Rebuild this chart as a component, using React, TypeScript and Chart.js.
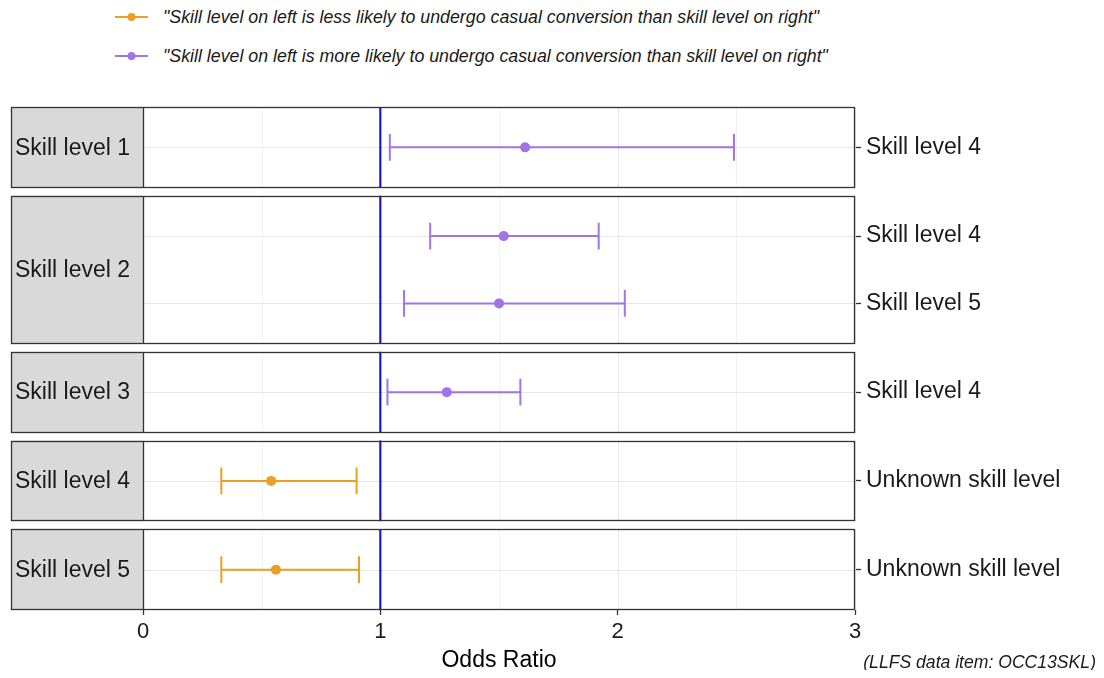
import React, { useEffect, useRef } from "react";
import { Chart, registerables } from "chart.js";

Chart.register(...registerables);

// ---------------- data ----------------
const groups = ["Skill level 1", "Skill level 2", "Skill level 3", "Skill level 4", "Skill level 5"];
const rowGroup = [0, 1, 1, 2, 3, 4];
const rowLabels = ["Skill level 4", "Skill level 4", "Skill level 5", "Skill level 4", "Unknown skill level", "Unknown skill level"];
const oddsRatio = [1.61, 1.52, 1.5, 1.28, 0.54, 0.56];
const ciLower = [1.04, 1.21, 1.1, 1.03, 0.33, 0.33];
const ciUpper = [2.49, 1.92, 2.03, 1.59, 0.9, 0.91];
const rowDirection = ["more", "more", "more", "more", "less", "less"];
const directions = ["less", "more"];
const directionLabels = [
  '"Skill level on left is less likely to undergo casual conversion than skill level on right"',
  '"Skill level on left is more likely to undergo casual conversion than skill level on right"',
];
const xTicks = [0, 1, 2, 3];
const refLine = 1;
const xTitle = "Odds Ratio";
const caption = "(LLFS data item: OCC13SKL)";

// ---------------- styles ----------------
const FONT = "'Liberation Sans', Arial, sans-serif";
const dirColors: Record<string, string> = { less: "#E9A023", more: "#A073E6" };
const REF_COLOR = "#1B1BB3";
const BORDER = "#333333";
const STRIP_FILL = "#D9D9D9";
const STRIP_W = 132;

export default function App() {
  const ref = useRef<HTMLCanvasElement>(null);

  useEffect(() => {
    if (!ref.current) return;
    const EXPAND = 0.6;
    const GAP = 0.119;
    const panels: { label: string; start: number; end: number; rows: number[] }[] = [];
    const rowPos: number[] = new Array(rowGroup.length).fill(0);
    let cursor = 0;
    groups.forEach((g, gi) => {
      const rows = rowGroup.map((v, i) => (v === gi ? i : -1)).filter((i) => i >= 0);
      const start = cursor;
      rows.forEach((r, k) => (rowPos[r] = start + EXPAND + k));
      const end = start + 2 * EXPAND + rows.length - 1;
      panels.push({ label: g, start, end, rows });
      cursor = end + GAP;
    });
    const yMax = cursor - GAP;
    const xMin = xTicks[0];
    const xMax = xTicks[xTicks.length - 1];

    const datasets = directions.map((d) => ({
      label: d,
      data: rowPos
        .map((p, i) => ({ x: oddsRatio[i], y: p, dir: rowDirection[i] }))
        .filter((pt) => pt.dir === d)
        .map((pt) => ({ x: pt.x, y: pt.y })),
      backgroundColor: dirColors[d],
      borderColor: dirColors[d],
      pointRadius: 5,
      pointBorderWidth: 0,
      showLine: false,
    }));

    const facetPlugin = {
      id: "facets",
      beforeDatasetsDraw(chart: any) {
        const { ctx, chartArea, scales } = chart;
        const x = scales.x;
        const y = scales.y;
        ctx.save();
        panels.forEach((p) => {
          const top = y.getPixelForValue(p.start);
          const bottom = y.getPixelForValue(p.end);
          // minor grid
          ctx.lineWidth = 1;
          for (let v = xMin + 0.5; v < xMax; v += 1) {
            const px = Math.round(x.getPixelForValue(v)) + 0.5;
            ctx.strokeStyle = "#F2F2F2";
            ctx.beginPath();
            ctx.moveTo(px, top);
            ctx.lineTo(px, bottom);
            ctx.stroke();
          }
          // major grid
          xTicks.forEach((v) => {
            const px = Math.round(x.getPixelForValue(v)) + 0.5;
            ctx.strokeStyle = "#E6E6E6";
            ctx.beginPath();
            ctx.moveTo(px, top);
            ctx.lineTo(px, bottom);
            ctx.stroke();
          });
          p.rows.forEach((r) => {
            const py = Math.round(y.getPixelForValue(rowPos[r])) + 0.5;
            ctx.strokeStyle = "#E6E6E6";
            ctx.beginPath();
            ctx.moveTo(chartArea.left, py);
            ctx.lineTo(chartArea.right, py);
            ctx.stroke();
          });
          // reference line
          const rx = x.getPixelForValue(refLine);
          ctx.strokeStyle = REF_COLOR;
          ctx.lineWidth = 2.2;
          ctx.beginPath();
          ctx.moveTo(rx, top);
          ctx.lineTo(rx, bottom);
          ctx.stroke();
          // strip
          ctx.fillStyle = STRIP_FILL;
          ctx.fillRect(chartArea.left - STRIP_W, top, STRIP_W, bottom - top);
          ctx.fillStyle = "#1A1A1A";
          ctx.font = `23px ${FONT}`;
          ctx.textAlign = "left";
          ctx.textBaseline = "middle";
          ctx.fillText(p.label, chartArea.left - STRIP_W + 4, (top + bottom) / 2 + 1);
        });
        // error bars
        rowPos.forEach((p, i) => {
          const py = y.getPixelForValue(p);
          const capT = y.getPixelForValue(p - 0.2);
          const capB = y.getPixelForValue(p + 0.2);
          const lx = x.getPixelForValue(ciLower[i]);
          const ux = x.getPixelForValue(ciUpper[i]);
          ctx.strokeStyle = dirColors[rowDirection[i]];
          ctx.lineWidth = 2;
          ctx.beginPath();
          ctx.moveTo(lx, py);
          ctx.lineTo(ux, py);
          ctx.moveTo(lx, capT);
          ctx.lineTo(lx, capB);
          ctx.moveTo(ux, capT);
          ctx.lineTo(ux, capB);
          ctx.stroke();
        });
        ctx.restore();
      },
      afterDraw(chart: any) {
        const { ctx, chartArea, scales } = chart;
        const y = scales.y;
        ctx.save();
        ctx.strokeStyle = BORDER;
        ctx.lineWidth = 1.3;
        panels.forEach((p) => {
          const top = Math.round(y.getPixelForValue(p.start)) + 0.5;
          const bottom = Math.round(y.getPixelForValue(p.end)) - 0.5;
          const l = Math.round(chartArea.left - STRIP_W) + 0.5;
          const r = Math.round(chartArea.right) - 0.5;
          ctx.strokeRect(l, top, r - l, bottom - top);
          const sx = Math.round(chartArea.left) + 0.5;
          ctx.beginPath();
          ctx.moveTo(sx, top);
          ctx.lineTo(sx, bottom);
          ctx.stroke();
        });
        ctx.restore();
      },
    };

    const chart = new Chart(ref.current, {
      type: "scatter",
      data: { datasets: datasets as any },
      plugins: [facetPlugin],
      options: {
        animation: false,
        responsive: false,
        events: [],
        layout: { padding: { left: 135, top: 9, right: 0, bottom: 0 } },
        plugins: { legend: { display: false }, tooltip: { enabled: false } },
        scales: {
          x: {
            type: "linear",
            min: xMin,
            max: xMax,
            afterBuildTicks: (scale: any) => {
              scale.ticks = xTicks.map((v) => ({ value: v }));
            },
            afterFit: (scale: any) => {
              scale.paddingLeft = 0;
              scale.paddingRight = 0;
              scale.height = 60;
            },
            ticks: { font: { size: 22, family: FONT }, color: "#1A1A1A", padding: 4, maxRotation: 0 },
            grid: { drawOnChartArea: false, tickLength: 5, tickColor: BORDER, tickWidth: 1.3 },
            border: { display: false },
            title: {
              display: true,
              text: xTitle,
              font: { size: 23, family: FONT, lineHeight: 1 },
              color: "#000000",
              padding: { top: 0, bottom: -2 },
            },
          },
          y: {
            type: "linear",
            position: "right",
            min: 0,
            max: yMax,
            reverse: true,
            afterBuildTicks: (scale: any) => {
              scale.ticks = rowPos.map((v) => ({ value: v }));
            },
            afterFit: (scale: any) => {
              scale.width = 241;
              scale.paddingTop = 0;
              scale.paddingBottom = 0;
            },
            ticks: {
              autoSkip: false,
              font: { size: 23, family: FONT },
              color: "#1A1A1A",
              padding: 5,
              callback: (_v: any, i: number) => rowLabels[i],
            },
            grid: { drawOnChartArea: false, tickLength: 6, tickColor: BORDER, tickWidth: 1.3 },
            border: { display: false },
          },
        },
      },
    } as any);
    return () => chart.destroy();
  }, []);

  return (
    <div style={{ position: "relative", width: 1088, height: 662, fontFamily: FONT }}>
      {directions.map((d, i) => (
        <div
          key={d}
          style={{
            position: "absolute",
            left: 107,
            top: 9 + i * 39 - 12,
            height: 24,
            display: "flex",
            alignItems: "center",
            whiteSpace: "nowrap",
          }}
        >
          <svg width={33} height={12} style={{ marginRight: 15 }}>
            <line x1={0} y1={6} x2={33} y2={6} stroke={dirColors[d]} strokeWidth={2} />
            <circle cx={16.5} cy={6} r={4} fill={dirColors[d]} />
          </svg>
          <span style={{ fontStyle: "italic", fontSize: 17.8, color: "#1A1A1A" }}>{directionLabels[i]}</span>
        </div>
      ))}
      <canvas ref={ref} width={1088} height={572} style={{ position: "absolute", left: 0, top: 90 }} />
      <div
        style={{
          position: "absolute",
          right: 0,
          top: 644,
          fontStyle: "italic",
          fontSize: 17.6,
          color: "#1A1A1A",
          whiteSpace: "nowrap",
        }}
      >
        {caption}
      </div>
    </div>
  );
}
